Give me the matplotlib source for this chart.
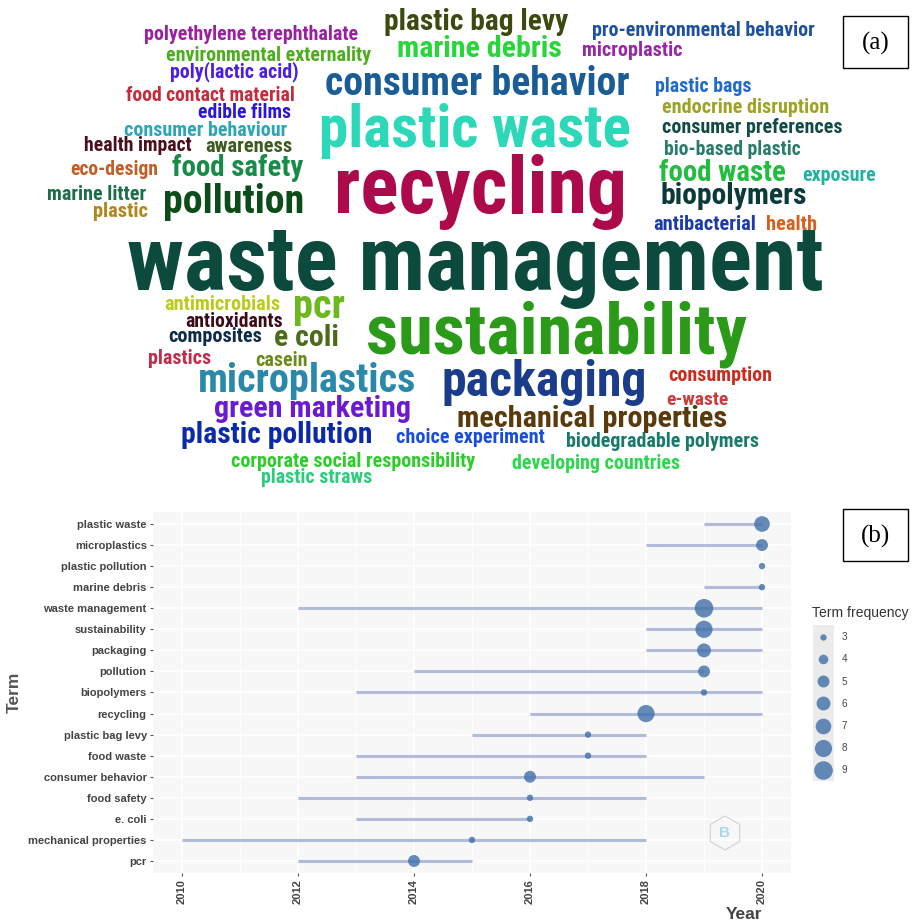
import numpy as np
import matplotlib
matplotlib.use('Agg')
import matplotlib.pyplot as plt
from matplotlib import font_manager
from matplotlib.patches import Rectangle, RegularPolygon
from matplotlib.lines import Line2D

# ---- (a) word cloud ----
cloud_words = [
    'polyethylene terephthalate', 'plastic bag levy', 'pro-environmental behavior',
    'environmental externality', 'marine debris', 'microplastic', 'poly(lactic acid)',
    'consumer behavior', 'plastic bags', 'food contact material', 'plastic waste',
    'endocrine disruption', 'edible films', 'consumer behaviour', 'consumer preferences',
    'health impact', 'awareness', 'bio-based plastic', 'eco-design', 'food safety',
    'food waste', 'exposure', 'recycling', 'marine litter', 'pollution', 'biopolymers',
    'plastic', 'antibacterial', 'health', 'waste management', 'antimicrobials', 'pcr',
    'antioxidants', 'sustainability', 'composites', 'e coli', 'plastics', 'casein',
    'microplastics', 'packaging', 'consumption', 'e-waste', 'green marketing',
    'mechanical properties', 'plastic pollution', 'choice experiment',
    'biodegradable polymers', 'corporate social responsibility', 'developing countries',
    'plastic straws',
]
cloud_colors = [
    '#9b1fa3', '#3b4a0f', '#1e50a0', '#4cae1c', '#28d63a', '#9a25a8', '#4a1fe0',
    '#1a5c96', '#1f6ad0', '#c42c3c', '#2dd8b8', '#9fa322', '#2b16d6', '#2ca6b4',
    '#124a48', '#4b0f1c', '#3b5c1c', '#2a7b6c', '#c05e2a', '#198a48', '#21bc40',
    '#24b2a0', '#ad0a4c', '#1a6e4a', '#0b4c18', '#0b3a3a', '#b0881a', '#1c3aac',
    '#d4621e', '#0b4a3c', '#b9cc1e', '#6cb81e', '#3b0b18', '#2a9a18', '#0c2a4a',
    '#4c6c1a', '#c22c4c', '#6c8a1c', '#2a88aa', '#1a3c8a', '#cc2a1c', '#cc3c3c',
    '#6a1ad0', '#5a3a0c', '#0c2aa8', '#1c4cdd', '#1a7a6a', '#2ccc2a', '#2ad84c',
    '#2ccc7c',
]
# layout of the cloud in pixels: left, right, baseline
cloud_boxes = [
    (132, 370, 40), (374, 579, 30), (580, 827, 36), (155, 382, 61), (387, 571, 57),
    (577, 688, 56), (163, 305, 77), (308, 647, 95), (650, 757, 92), (117, 304, 101),
    (302, 648, 147), (653, 838, 113), (193, 296, 118), (115, 296, 136), (652, 852, 133),
    (78, 198, 151), (200, 297, 152), (657, 808, 155), (65, 163, 175), (165, 311, 176),
    (652, 793, 181), (798, 880, 181), (317, 643, 213), (42, 152, 200), (155, 312, 213),
    (652, 815, 204), (90, 151, 217), (648, 762, 230), (763, 820, 230), (88, 863, 290),
    (158, 287, 310), (290, 348, 318), (180, 288, 327), (345, 768, 354), (163, 267, 342),
    (270, 342, 346), (145, 215, 364), (252, 310, 366), (185, 428, 392), (430, 658, 396),
    (663, 778, 381), (663, 732, 405), (203, 422, 417), (442, 742, 427), (170, 383, 443),
    (388, 553, 443), (555, 770, 447), (218, 489, 467), (503, 690, 469), (255, 378, 483),
]

# ---- (b) trend topics ----
terms = ['plastic waste', 'microplastics', 'plastic pollution', 'marine debris',
         'waste management', 'sustainability', 'packaging', 'pollution', 'biopolymers',
         'recycling', 'plastic bag levy', 'food waste', 'consumer behavior',
         'food safety', 'e. coli', 'mechanical properties', 'pcr']
year_q1 = [2019, 2018, 2020, 2019, 2012, 2018, 2018, 2014, 2013, 2016, 2015, 2013, 2013,
           2012, 2013, 2010, 2012]
year_median = [2020, 2020, 2020, 2020, 2019, 2019, 2019, 2019, 2019, 2018, 2017, 2017,
               2016, 2016, 2016, 2015, 2014]
year_q3 = [2020, 2020, 2020, 2020, 2020, 2020, 2020, 2019, 2020, 2020, 2018, 2018, 2019,
           2018, 2016, 2018, 2015]
term_freq = [7, 5, 3, 3, 9, 8, 6, 5, 3, 8, 3, 3, 5, 3, 3, 3, 5]
legend_freq = [3, 4, 5, 6, 7, 8, 9]

W, H = 917, 924
plt.rcParams['font.family'] = ['Liberation Sans', 'DejaVu Sans']
fig = plt.figure(figsize=(W / 100, H / 100), dpi=100)

avail = {f.name for f in font_manager.fontManager.ttflist}
cloud_font = 'DejaVu Sans'
for cand in ['Liberation Sans Narrow', 'Roboto Condensed', 'Open Sans Condensed']:
    if cand in avail:
        cloud_font = cand
        break

ax_wc = fig.add_axes([0, 0, 1, 1])
ax_wc.set_xlim(0, W)
ax_wc.set_ylim(H, 0)
ax_wc.axis('off')

# fit each word to ~90% of its width in the original cloud
renderer = fig.canvas.get_renderer()
for word, col, (x0, x1, base) in zip(cloud_words, cloud_colors, cloud_boxes):
    t = ax_wc.text((x0 + x1) / 2, base, word, ha='center', va='baseline', color=col,
                   fontsize=30, family=[cloud_font, 'DejaVu Sans'], fontweight='bold',
                   fontstretch='condensed')
    w = t.get_window_extent(renderer).width
    t.set_fontsize(0.9 * 30 * (x1 - x0) / w)


def panel_tag(label, x0, y0, x1, y1):
    ax_wc.add_patch(Rectangle((x0, y0), x1 - x0, y1 - y0, fill=False, lw=1.0,
                              ec='black', zorder=10))
    ax_wc.text((x0 + x1) / 2, (y0 + y1) / 2 + 1, label, ha='center', va='center',
               fontsize=18, family=['Liberation Serif', 'DejaVu Serif'], zorder=10)


panel_tag('(a)', 843, 16, 908, 68)
panel_tag('(b)', 843, 509, 908, 561)

# ---- trend panel ----
ax = fig.add_axes([153 / W, 1 - 873 / H, (791 - 153) / W, (873 - 512) / H])
ax.set_facecolor('#f7f7f8')
ypos = np.arange(len(terms))


def radius(f):
    r3, r9 = 3.2, 9.3
    return np.sqrt(r3 ** 2 + (np.asarray(f) - 3) / 6 * (r9 ** 2 - r3 ** 2))


dot_col = '#3f6fa8'
ax.hlines(ypos, year_q1, year_q3, color='#b2bcda', lw=2.2, zorder=2)
ax.scatter(year_median, ypos, s=(2 * radius(term_freq) * 0.72) ** 2, color=dot_col,
           alpha=0.8, lw=0, zorder=3)

ax.set_xlim(2009.5, 2020.5)
ax.set_ylim(len(terms) - 0.43, -0.57)
ax.set_xticks(range(2010, 2021, 2))
ax.set_xticks(range(2011, 2021, 2), minor=True)
ax.set_yticks(ypos)
ax.set_yticklabels(terms)
ax.tick_params(axis='x', labelrotation=90)
ax.grid(True, which='major', color='white', lw=1.1)
ax.grid(True, which='minor', axis='x', color='white', lw=0.6)
ax.set_axisbelow(True)
for s in ax.spines.values():
    s.set_visible(False)
ax.tick_params(which='major', length=2.5, width=0.8, color='#555555', labelsize=8,
               labelcolor='#444444', pad=2)
ax.tick_params(which='minor', length=0)
for lbl in ax.get_xticklabels() + ax.get_yticklabels():
    lbl.set_fontweight('bold')

ax.set_ylabel('Term', fontsize=12.5, fontweight='bold', color='#555555')
ax.yaxis.set_label_coords((22 - 153) / 638, 0.5)
ax.set_xlabel('Year', loc='right', fontsize=12.5, fontweight='bold', color='#444444')
ax.xaxis.set_label_coords((762 - 153) / 638, (873 - 907) / 361)

# watermark logo
fig.add_artist(RegularPolygon((725, 833), 6, radius=17, transform=ax_wc.transData,
                              fill=False, ec='#d0d0d0', lw=0.8, zorder=1))
fig.text(725 / W, 1 - 833 / H, 'B', ha='center', va='center', color='#a8d8ee',
         fontsize=11, fontweight='bold', zorder=1)

# legend
fig.add_artist(Rectangle((813 / W, 1 - 781 / H), 21 / W, 156 / H,
                         transform=fig.transFigure, fc='#ebebeb', ec='none', zorder=0))
handles = [Line2D([], [], ls='', marker='o', markersize=2 * radius(f) * 0.72,
                  mfc=dot_col, mec='none', alpha=0.8) for f in legend_freq]
leg = fig.legend(handles, [str(f) for f in legend_freq], title='Term frequency',
                 loc='upper left', bbox_to_anchor=(812 / W, 1 - 606 / H), frameon=False,
                 fontsize=7.2, title_fontsize=10, labelspacing=1.22, handlelength=2.1,
                 handletextpad=0.9, borderpad=0, borderaxespad=0, alignment='left')
for txt in leg.get_texts():
    txt.set_color('#444444')
leg.get_title().set_color('#333333')

fig.savefig('out.png', dpi=100)
